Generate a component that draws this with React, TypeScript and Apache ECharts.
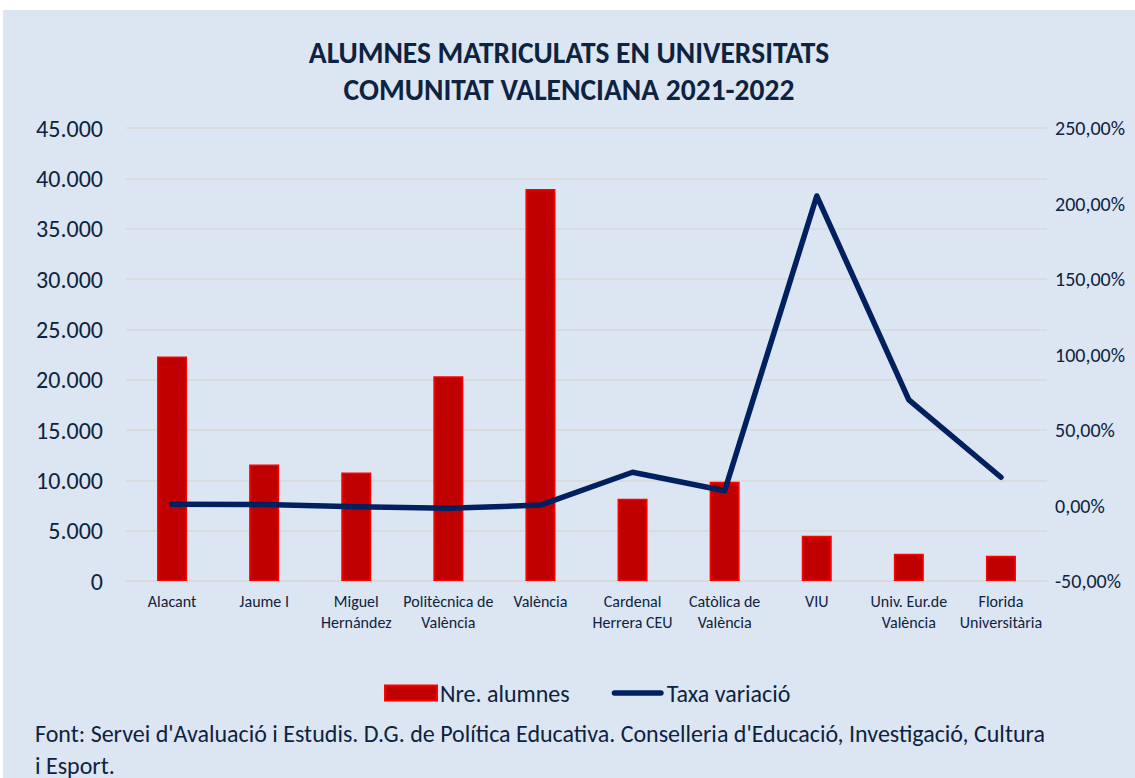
import React, { useEffect, useRef } from "react";
import * as echarts from "echarts";

const categories = [
  "Alacant",
  "Jaume I",
  "Miguel\nHernández",
  "Politècnica de\nValència",
  "València",
  "Cardenal\nHerrera CEU",
  "Catòlica de\nValència",
  "VIU",
  "Univ. Eur.de\nValència",
  "Florida\nUniversitària",
];
const alumnes = [22300, 11570, 10770, 20350, 38950, 8160, 9850, 4490, 2710, 2510];
const taxaVariacio = [0.8, 0.6, -0.8, -1.9, 0.3, 22.0, 9.8, 205.0, 69.9, 18.7];
const titleText = "ALUMNES MATRICULATS EN UNIVERSITATS\nCOMUNITAT VALENCIANA 2021-2022";
const sourceLines = [
  "Font: Servei d'Avaluació i Estudis. D.G. de Política Educativa. Conselleria d'Educació, Investigació, Cultura",
  "i Esport.",
];

const FONT = "Carlito, Calibri, 'Liberation Sans Narrow', 'Open Sans', sans-serif";
const NAVY = "#0d2340";
const LINE_ICON = "path://M0,0L0,0M56,14L56,14M3,4L53,4A3,3,0,0,1,53,10L3,10A3,3,0,0,1,3,4Z";

function fmtThousands(v: number): string {
  return String(Math.round(v)).replace(/\B(?=(\d{3})+(?!\d))/g, ".");
}
function fmtPct(v: number): string {
  return v.toFixed(2).replace(".", ",") + "%";
}

export default function App() {
  const ref = useRef<HTMLDivElement>(null);
  useEffect(() => {
    document.body.style.margin = "0";
    if (!ref.current) return;
    const chart = echarts.init(ref.current, null, { renderer: "svg" });
    chart.setOption({
      animation: false,
      backgroundColor: "#dce6f2",
      textStyle: { fontFamily: FONT },
      title: {
        text: titleText,
        left: "center",
        top: 19,
        textStyle: {
          fontFamily: FONT,
          fontSize: 29.5,
          fontWeight: "bold",
          color: NAVY,
          lineHeight: 37,
        },
      },
      legend: {
        left: 376,
        top: 666,
        itemWidth: 52,
        itemHeight: 15,
        itemGap: 42,
        textStyle: { fontFamily: FONT, fontSize: 24, color: NAVY, padding: [0, 0, 0, -2] },
        data: [
          { name: "Nre. alumnes", icon: "rect" },
          { name: "Taxa variació", icon: LINE_ICON },
        ],
      },
      grid: { left: 123, right: 88, top: 118, bottom: 197, containLabel: false },
      xAxis: {
        type: "category",
        data: categories,
        axisTick: { show: false },
        axisLine: { lineStyle: { color: "#d9d9d9", width: 1.5 } },
        axisLabel: {
          interval: 0,
          fontFamily: FONT,
          fontSize: 16,
          color: NAVY,
          lineHeight: 21,
          margin: 10,
        },
      },
      yAxis: [
        {
          type: "value",
          min: 0,
          max: 45000,
          interval: 5000,
          axisLine: { show: false },
          axisTick: { show: false },
          splitLine: { lineStyle: { color: "#d9d9d9", width: 1.5 } },
          axisLabel: {
            formatter: fmtThousands,
            fontFamily: FONT,
            fontSize: 24,
            color: NAVY,
            margin: 23,
          },
        },
        {
          type: "value",
          min: -50,
          max: 250,
          interval: 50,
          axisLine: { show: false },
          axisTick: { show: false },
          splitLine: { show: false },
          axisLabel: {
            formatter: fmtPct,
            fontFamily: FONT,
            fontSize: 20,
            color: NAVY,
            margin: 8,
          },
        },
      ],
      series: [
        {
          name: "Nre. alumnes",
          type: "bar",
          data: alumnes,
          barWidth: 30,
          yAxisIndex: 0,
          itemStyle: { color: "#c00000", borderColor: "#ff0000", borderWidth: 1.5 },
        },
        {
          name: "Taxa variació",
          type: "line",
          data: taxaVariacio,
          yAxisIndex: 1,
          symbol: "none",
          lineStyle: { color: "#002060", width: 5.5, cap: "round", join: "round" },
          itemStyle: { color: "#002060" },
        },
      ],
      graphic: [
        {
          type: "text",
          left: 32,
          top: 707,
          style: {
            text: sourceLines.join("\n"),
            fontFamily: FONT,
            fontSize: 24,
            lineHeight: 32,
            fill: NAVY,
          },
        },
      ],
    });
    return () => chart.dispose();
  }, []);
  return (
    <div style={{ position: "relative", width: 1135, height: 778, background: "#ffffff" }}>
      <div
        ref={ref}
        style={{ position: "absolute", left: 3, top: 10, width: 1132, height: 768 }}
      />
    </div>
  );
}
